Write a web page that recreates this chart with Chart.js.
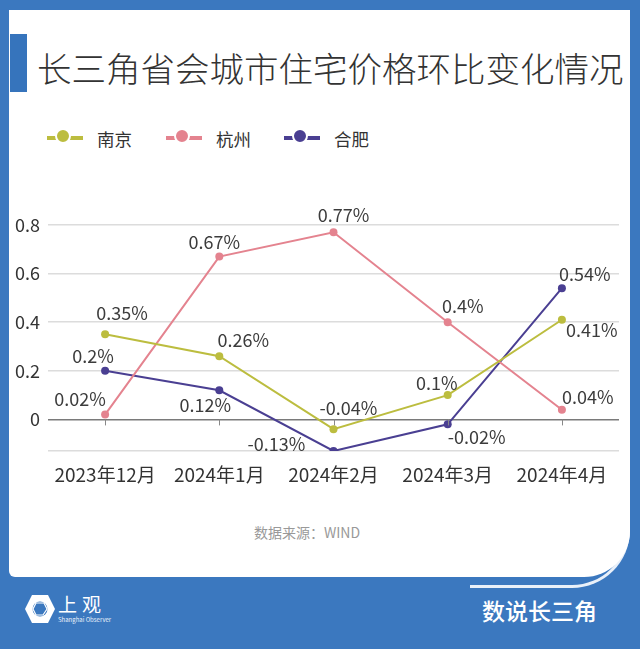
<!DOCTYPE html>
<html>
<head>
<meta charset="utf-8">
<script src="https://cdn.jsdelivr.net/npm/chart.js@4.4.1/dist/chart.umd.min.js"></script>
<style>
    html, body { margin: 0; padding: 0; }
    body {
        width: 640px; height: 649px; position: relative; overflow: hidden;
        background: #3b78bf;
        font-family: "Noto Sans CJK SC", "Noto Sans", sans-serif;
    }
    #curve {
        position: absolute; left: 470px; top: 478px; width: 157px; height: 107px;
        border-right: 3px solid #e9f0f9; border-bottom: 3px solid #e9f0f9;
        border-bottom-right-radius: 58px;
    }
    #panel {
        position: absolute; left: 9px; top: 10px; width: 621px; height: 567px;
        background: #fff; border-radius: 0 0 46px 6px;
    }
    #bar { position: absolute; left: 10px; top: 34px; width: 17px; height: 58px; background: #3674bc; }
    #title { position: absolute; left: 37px; top: 44px; font-size: 34.5px; line-height: 46px; color: #333; white-space: nowrap; font-weight: 300; }
    .legend-item { position: absolute; top: 128px; height: 20px; display: flex; align-items: center; }
    .legend-mark { position: relative; width: 36px; height: 4px; }
    .legend-mark i {
        position: absolute; left: 10px; top: -6px; width: 12px; height: 12px;
        border-radius: 50%; border: 2px solid #fff; box-sizing: content-box; margin-left: -2px; margin-top: -2px;
    }
    .legend-text { margin-left: 14px; font-size: 17.5px; color: #333; }
    #chart-box { position: absolute; left: 0; top: 180px; width: 640px; height: 320px; }
    #source { position: absolute; left: 0; width: 614px; top: 522px; text-align: center; font-size: 14px; color: #999; }
    #logo { position: absolute; left: 24px; top: 594px; }
    #logo-text { position: absolute; left: 58px; top: 593px; font-size: 19px; color: #fff; letter-spacing: 5px; line-height: 22px; }
    #logo-sub { position: absolute; left: 58px; top: 615px; font-size: 6px; color: #e8f0fa; }
    #brand { position: absolute; left: 482px; top: 596px; font-size: 23px; line-height: 28px; color: #fff; font-weight: 500; }
</style>
</head>
<body>
<div id="curve"></div>
<div id="panel"></div>
<div id="bar"></div>
<div id="title">长三角省会城市住宅价格环比变化情况</div>
<div id="legend"></div>
<div id="chart-box"><canvas id="chart"></canvas></div>
<div id="source">数据来源：WIND</div>
<svg id="logo" width="32" height="30" viewBox="0 0 32 30">
    <polygon points="8,1 24,1 31,15 24,29 8,29 1,15" fill="#fff"/>
    <circle cx="16" cy="15" r="7.5" fill="#3b78bf"/>
    <polygon points="12,9 20,9 23,15 19,21 12,21 9,15" fill="none" stroke="#fff" stroke-width="1.2"/>
</svg>
<div id="logo-text">上观</div>
<div id="logo-sub">Shanghai Observer</div>
<div id="brand">数说长三角</div>

<script>
    // chart data
    const months = ['2023年12月', '2024年1月', '2024年2月', '2024年3月', '2024年4月'];
    const cityNames = ['南京', '杭州', '合肥'];
    const nanjing = [0.35, 0.26, -0.04, 0.1, 0.41];
    const hangzhou = [0.02, 0.67, 0.77, 0.4, 0.04];
    const hefei = [0.2, 0.12, -0.13, -0.02, 0.54];
    const yTicks = [-0.13, 0, 0.2, 0.4, 0.6, 0.8];

    const cityColors = ['#bcbd3f', '#e4838f', '#4a3f92'];
    // where each value label sits relative to its point (dx, dy)
    const labelOffsets = [
        [[17, -21], [24, -16], [15, -21], [-11, -12], [30, 10]],
        [[-25, -15], [-5, -14], [10, -17], [15, -16], [26, -13]],
        [[-12, -15], [-14, 15], [-57, -7], [29, 13], [23, -14]]
    ];

    // html legend
    const legendLeft = [47, 166, 284];
    let legend = document.getElementById('legend');
    cityNames.forEach(function (name, i) {
        let item = document.createElement('div');
        item.className = 'legend-item';
        item.style.left = legendLeft[i] + 'px';
        item.innerHTML = '<div class="legend-mark" style="background:' + cityColors[i] + '">' +
            '<i style="background:' + cityColors[i] + '"></i></div>' +
            '<span class="legend-text">' + name + '</span>';
        legend.appendChild(item);
    });

    Chart.defaults.font.family = '"Noto Sans CJK SC", "Noto Sans", sans-serif';
    Chart.defaults.font.size = 18;
    Chart.defaults.color = '#333';

    const seriesList = [nanjing, hangzhou, hefei];

    // value labels + little tick marks on the zero line
    const extras = {
        id: 'extras',
        afterDatasetsDraw: function (chart) {
            let ctx = chart.ctx;
            let xScale = chart.scales.x;
            let zeroY = chart.scales.y.getPixelForValue(0);
            ctx.save();
            ctx.strokeStyle = '#888';
            ctx.lineWidth = 1;
            months.forEach(function (m, i) {
                let x = Math.round(xScale.getPixelForValue(i)) + 0.5;
                ctx.beginPath();
                ctx.moveTo(x, zeroY);
                ctx.lineTo(x, zeroY + 6);
                ctx.stroke();
            });
            ctx.font = '18px "Noto Sans CJK SC", sans-serif';
            ctx.fillStyle = '#3c3c3c';
            ctx.textAlign = 'center';
            ctx.textBaseline = 'middle';
            chart.data.datasets.forEach(function (ds, di) {
                let meta = chart.getDatasetMeta(di);
                meta.data.forEach(function (pt, pi) {
                    let off = labelOffsets[di][pi];
                    ctx.fillText(ds.data[pi] + '%', pt.x + off[0], pt.y + off[1]);
                });
            });
            ctx.restore();
        }
    };

    let ctx = document.getElementById('chart').getContext('2d');
    let myChart = new Chart(ctx, {
        type: 'line',
        data: {
            labels: months,
            datasets: seriesList.map(function (values, i) {
                return {
                    label: cityNames[i],
                    data: values,
                    borderColor: cityColors[i],
                    backgroundColor: cityColors[i],
                    borderWidth: 2,
                    pointRadius: 4,
                    pointBorderWidth: 0,
                    pointBackgroundColor: cityColors[i],
                    tension: 0
                };
            })
        },
        options: {
            responsive: true,
            maintainAspectRatio: false,
            animation: false,
            layout: { padding: { left: 0, right: 21, top: 45, bottom: 0 } },
            plugins: {
                legend: { display: false },
                tooltip: { enabled: false }
            },
            scales: {
                x: {
                    offset: true,
                    grid: { display: false },
                    border: { display: false },
                    ticks: { padding: 4, color: '#333', maxRotation: 0, font: { size: 19 } },
                    afterFit: function (scale) { scale.height = 49; }
                },
                y: {
                    min: yTicks[0],
                    max: yTicks[yTicks.length - 1],
                    border: { display: false },
                    grid: {
                        drawTicks: false,
                        lineWidth: 1.5,
                        color: function (c) { return c.tick && c.tick.value === 0 ? '#7a7a7a' : '#dcdcdc'; }
                    },
                    ticks: {
                        padding: 8,
                        color: '#333',
                        callback: function (v) { return v === yTicks[0] ? '' : String(v); }
                    },
                    afterBuildTicks: function (scale) {
                        scale.ticks = yTicks.map(function (v) { return { value: v }; });
                    },
                    afterFit: function (scale) { scale.width = 48; }
                }
            }
        },
        plugins: [extras]
    });
</script>
</body>
</html>
